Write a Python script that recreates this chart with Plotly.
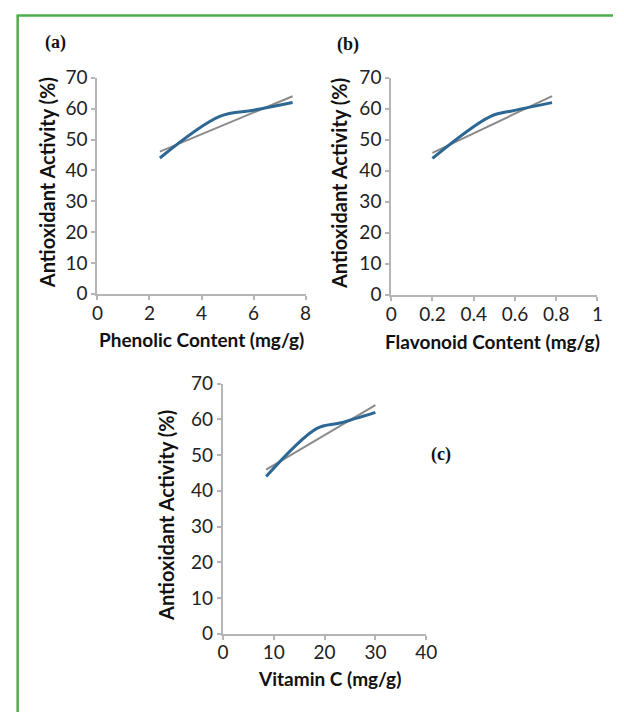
import numpy as np
import plotly.graph_objects as go

W, H = 624, 723

# ---- data ----
phenolic_x = [2.4, 4.7, 6.0, 7.5]
phenolic_y = [44.0, 57.5, 59.5, 62.0]

flavonoid_x = [0.2, 0.48, 0.6, 0.78]
flavonoid_y = [44.0, 57.5, 59.5, 62.0]

vitc_x = [8.5, 18.5, 23.0, 30.0]
vitc_y = [44.0, 57.5, 59.0, 62.0]

y_ticks = [0, 10, 20, 30, 40, 50, 60, 70]
phenolic_ticks = [0, 2, 4, 6, 8]
flavonoid_ticks = [0, 0.2, 0.4, 0.6, 0.8, 1]
flavonoid_ticklabels = ["0", "0.2", "0.4", "0.6", "0.8", "1"]
vitc_ticks = [0, 10, 20, 30, 40]

x_titles = ["Phenolic Content (mg/g)", "Flavonoid Content (mg/g)", "Vitamin C (mg/g)"]
y_title = "Antioxidant Activity (%)"
panel_labels = ["(a)", "(b)", "(c)"]


def px_x(p):
    return p / W


def px_y(p):
    return 1 - p / H


fig = go.Figure()

panels = [
    (phenolic_x, phenolic_y, "", (94, 308, 68, 291), [0, 8], phenolic_ticks, None),
    (flavonoid_x, flavonoid_y, "2", (396, 608, 68, 292), [0, 1], flavonoid_ticks, flavonoid_ticklabels),
    (vitc_x, vitc_y, "3", (223, 432, 384, 642), [0, 40], vitc_ticks, None),
]

blue = "#2d6794"
trend_gray = "#8a8a8a"
axis_gray = "#b5b5b5"
tick_font = dict(family="Lato, Open Sans, sans-serif", size=19, color="#222222")

layout_axes = {}
for xs, ys, sfx, box, xr, xt, xtl in panels:
    xa = "x" + sfx
    ya = "y" + sfx
    slope, intercept = np.polyfit(xs, ys, 1)
    tx = [min(xs), max(xs)]
    ty = [slope * v + intercept for v in tx]
    fig.add_trace(go.Scatter(x=tx, y=ty, mode="lines", xaxis=xa, yaxis=ya,
                             line=dict(color=trend_gray, width=2), showlegend=False,
                             hoverinfo="skip"))
    fig.add_trace(go.Scatter(x=xs, y=ys, mode="lines", xaxis=xa, yaxis=ya,
                             line=dict(color=blue, width=3, shape="spline", smoothing=1.0),
                             showlegend=False))
    l, r, t, b = box
    xkey = "xaxis" + sfx
    ykey = "yaxis" + sfx
    layout_axes[xkey] = dict(
        domain=[px_x(l), px_x(r)], anchor=ya, range=xr, tickvals=xt,
        ticktext=xtl if xtl else [str(v) for v in xt],
        showline=True, linecolor=axis_gray, linewidth=2, ticks="outside",
        ticklen=4, tickcolor=axis_gray, tickwidth=1.5, showgrid=False,
        zeroline=False, tickfont=tick_font, fixedrange=True,
        ticklabelstandoff=-3,
    )
    layout_axes[ykey] = dict(
        domain=[px_y(b), px_y(t)], anchor=xa, range=[0, 70], tickvals=y_ticks,
        showline=True, linecolor=axis_gray, linewidth=2, ticks="outside",
        ticklen=4, tickcolor=axis_gray, tickwidth=1.5, showgrid=False,
        zeroline=False, tickfont=tick_font, fixedrange=True,
    )

fig.update_layout(**layout_axes)

xtitle_font = dict(family="Lato, Open Sans, sans-serif", size=19, color="#111111")
ytitle_font = dict(family="Lato, Open Sans, sans-serif", size=20, color="#111111")
label_font = dict(family="Liberation Serif, Times New Roman, serif", size=18, color="#111111")

annotations = []
for txt, (cx, cy) in zip(x_titles, [(201, 338), (500, 340), (333, 688)]):
    annotations.append(dict(text="<b>%s</b>" % txt, x=px_x(cx), y=px_y(cy),
                            xref="paper", yref="paper", showarrow=False,
                            xanchor="center", yanchor="middle", font=xtitle_font))
for cx, cy in [(43, 176), (343, 177), (165, 520)]:
    annotations.append(dict(text="<b>%s</b>" % y_title, x=px_x(cx), y=px_y(cy),
                            xref="paper", yref="paper", showarrow=False, textangle=-90,
                            xanchor="center", yanchor="middle", font=ytitle_font))
for txt, (cx, cy) in zip(panel_labels, [(51, 31), (352, 34), (447, 457)]):
    annotations.append(dict(text="<b>%s</b>" % txt, x=px_x(cx), y=px_y(cy),
                            xref="paper", yref="paper", showarrow=False,
                            xanchor="center", yanchor="middle", font=label_font))

green = "#4cae4c"
shapes = [
    dict(type="line", xref="paper", yref="paper", x0=px_x(11), x1=1.0,
         y0=px_y(3.5), y1=px_y(3.5), line=dict(color=green, width=2.5)),
    dict(type="line", xref="paper", yref="paper", x0=px_x(12), x1=px_x(12),
         y0=px_y(3), y1=0, line=dict(color=green, width=2.5)),
]

fig.update_layout(
    width=W, height=H,
    margin=dict(l=0, r=0, t=0, b=0),
    paper_bgcolor="white", plot_bgcolor="white",
    annotations=annotations, shapes=shapes, showlegend=False,
)

fig.write_html(
    "out.html",
    config={"displayModeBar": False},
    post_script="document.body.style.margin='0';document.body.style.overflow='hidden';",
)
